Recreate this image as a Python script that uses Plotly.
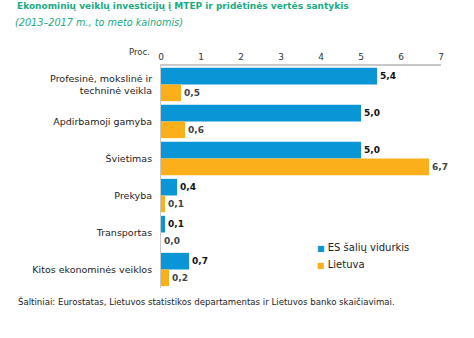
import plotly.graph_objects as go

categories = ["Profesinė, mokslinė ir<br>techninė veikla", "Apdirbamoji gamyba", "Švietimas",
              "Prekyba", "Transportas", "Kitos ekonominės veiklos"]
es_values = [5.4, 5.0, 5.0, 0.4, 0.1, 0.7]
lt_values = [0.5, 0.6, 6.7, 0.1, 0.0, 0.2]
x_ticks = [0, 1, 2, 3, 4, 5, 6, 7]
series_names = ["ES šalių vidurkis", "Lietuva"]
series_colors = ["#0A96D6", "#FAAF1B"]

FONT = "Verdana, DejaVu Sans, sans-serif"
PW, PH = 280, 222  # plot area size in px

def fmt(v):
    return f"{v:.1f}".replace(".", ",")

fig = go.Figure()
fig.add_trace(go.Bar(
    y=categories, x=es_values, orientation="h", name=series_names[0],
    marker=dict(color=series_colors[0], line=dict(width=0)),
    text=[fmt(v) for v in es_values], textposition="outside",
    textfont=dict(family=FONT, size=9, color="#111111", weight="bold"),
    cliponaxis=False, showlegend=False,
))
fig.add_trace(go.Bar(
    y=categories, x=lt_values, orientation="h", name=series_names[1],
    marker=dict(color=series_colors[1], line=dict(width=0)),
    text=[fmt(v) for v in lt_values], textposition="outside",
    textfont=dict(family=FONT, size=9, color="#444444", weight="bold"),
    cliponaxis=False, showlegend=False,
))

annotations = [
    dict(text="<b>Ekonominių veiklų investicijų į MTEP ir pridėtinės vertės santykis</b>",
         xref="paper", yref="paper", x=(15-161)/PW, y=1 + (66-6)/PH, xanchor="left", yanchor="middle",
         showarrow=False, font=dict(family=FONT, size=9, color="#1BAA84")),
    dict(text="<i>(2013–2017 m., to meto kainomis)</i>",
         xref="paper", yref="paper", x=(13-161)/PW, y=1 + (66-23)/PH, xanchor="left", yanchor="middle",
         showarrow=False, font=dict(family=FONT, size=9.7, color="#1BAA84")),
    dict(text="Proc.", xref="paper", yref="paper", x=-9/PW, y=1 + (66-52)/PH,
         xanchor="right", yanchor="middle", showarrow=False,
         font=dict(family=FONT, size=8.5, color="#333333")),
    dict(text="Šaltiniai: Eurostatas, Lietuvos statistikos departamentas ir Lietuvos banko skaičiavimai.",
         xref="paper", yref="paper", x=(16-161)/PW, y=-(301-288)/PH, xanchor="left", yanchor="middle",
         showarrow=False, font=dict(family=FONT, size=8.6, color="#222222")),
]
legend_y = [247, 264]
for name, col, yy in zip(series_names, series_colors, legend_y):
    annotations.append(dict(
        text=f"<span style='color:{col};font-size:8px'>■</span> {name}",
        xref="paper", yref="paper", x=(315-161)/PW, y=(288-yy)/PH, xanchor="left", yanchor="middle",
        showarrow=False, font=dict(family=FONT, size=10, color="#222222")))

fig.update_layout(
    width=474, height=338,
    margin=dict(l=161, r=33, t=66, b=50),
    paper_bgcolor="white", plot_bgcolor="white",
    barmode="group", bargap=0.1, bargroupgap=0.0,
    font=dict(family=FONT, size=10, color="#222222"),
    showlegend=False,
    xaxis=dict(side="top", range=[0, 7], tickvals=x_ticks,
               ticktext=[str(t) for t in x_ticks], showgrid=False, zeroline=False,
               showline=True, linecolor="#C8C8C8", linewidth=2, ticks="",
               tickfont=dict(family=FONT, size=9, color="#333333")),
    yaxis=dict(autorange="reversed", showgrid=False, zeroline=False,
               showline=True, linecolor="#C8C8C8", linewidth=1, ticks="",
               ticklabelstandoff=6,
               tickfont=dict(family=FONT, size=9.5, color="#222222")),
    annotations=annotations,
)

fig.write_html("out.html")
